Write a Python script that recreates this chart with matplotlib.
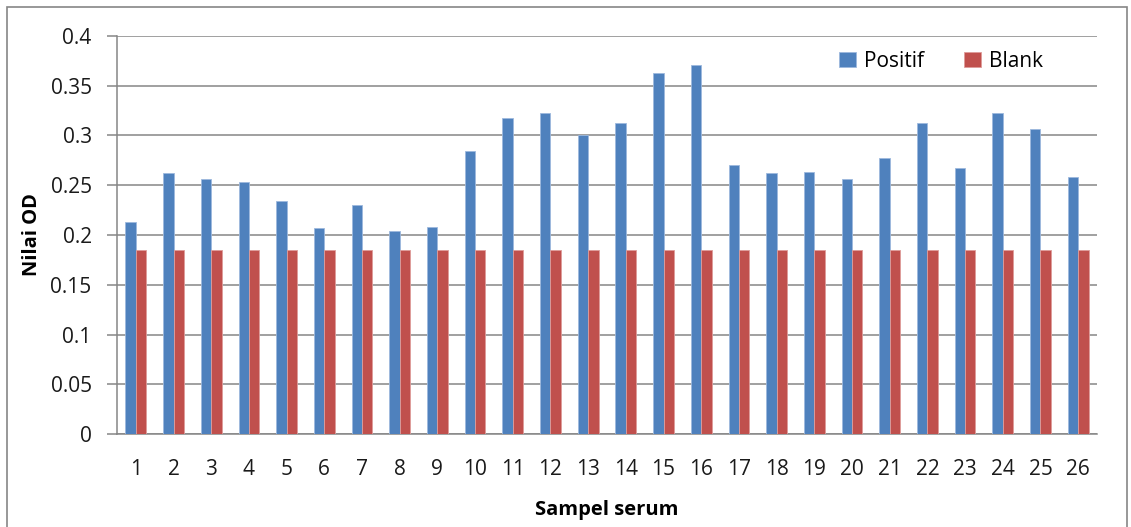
import matplotlib.pyplot as plt
import numpy as np
from matplotlib.patches import Rectangle

samples = [str(i) for i in range(1, 27)]
positif = [0.213, 0.262, 0.256, 0.253, 0.234, 0.207, 0.230, 0.204, 0.208, 0.284,
           0.317, 0.322, 0.300, 0.312, 0.363, 0.371, 0.270, 0.262, 0.263, 0.256,
           0.277, 0.312, 0.267, 0.322, 0.306, 0.258]
blank = [0.185] * 26
yticks = [0, 0.05, 0.1, 0.15, 0.2, 0.25, 0.3, 0.35, 0.4]
ytick_labels = ['0', '0.05', '0.1', '0.15', '0.2', '0.25', '0.3', '0.35', '0.4']

plt.rcParams['font.family'] = ['Open Sans', 'DejaVu Sans']

fig = plt.figure(figsize=(11.31, 5.27), dpi=100)
ax = fig.add_axes([117/1131, 1 - 434.3/527, (1097-117)/1131, (434.3-35.7)/527])

x = np.arange(len(samples))
w = 0.275
ax.bar(x - w/2, positif, w, color='#4F81BD', edgecolor='#9DB9DE', linewidth=0.6, label='Positif', zorder=3)
ax.bar(x + w/2, blank, w, color='#C0504D', edgecolor='#DE9C9A', linewidth=0.6, label='Blank', zorder=3)

ax.set_xlim(-0.5, len(samples) - 0.5)
ax.set_ylim(0, 0.4)
ax.set_yticks(yticks)
ax.set_yticklabels(ytick_labels)
ax.set_xticks(x)
ax.set_xticklabels(samples)
ax.yaxis.grid(True, color='#868686', linewidth=1.1, zorder=0)
ax.tick_params(axis='y', length=7.2, color='#868686', width=1.1, labelsize=15, pad=11, labelcolor='#1a1a1a')
ax.tick_params(axis='x', length=0, labelsize=15, pad=18, labelcolor='#1a1a1a')
for s in ['top', 'right']:
    ax.spines[s].set_visible(False)
for s in ['left', 'bottom']:
    ax.spines[s].set_color('#868686')
    ax.spines[s].set_linewidth(1.1)

ax.set_ylabel('Nilai OD', fontsize=14.5, fontweight='bold', labelpad=6)
ax.set_xlabel('Sampel serum', fontsize=14.5, fontweight='bold', labelpad=14)

ax.legend(loc='center left', bbox_to_anchor=(0.737, 0.936), ncol=2, frameon=False, fontsize=15,
          handlelength=0.8, handleheight=0.8, columnspacing=1.9, handletextpad=0.4,
          borderpad=0, borderaxespad=0)

fig.patches.append(Rectangle((7/1131, -0.05), (1127-7)/1131, 1.05 - 7/527, transform=fig.transFigure,
                             fill=False, edgecolor='#868686', linewidth=1.2))

fig.savefig('out.png', dpi=100)
